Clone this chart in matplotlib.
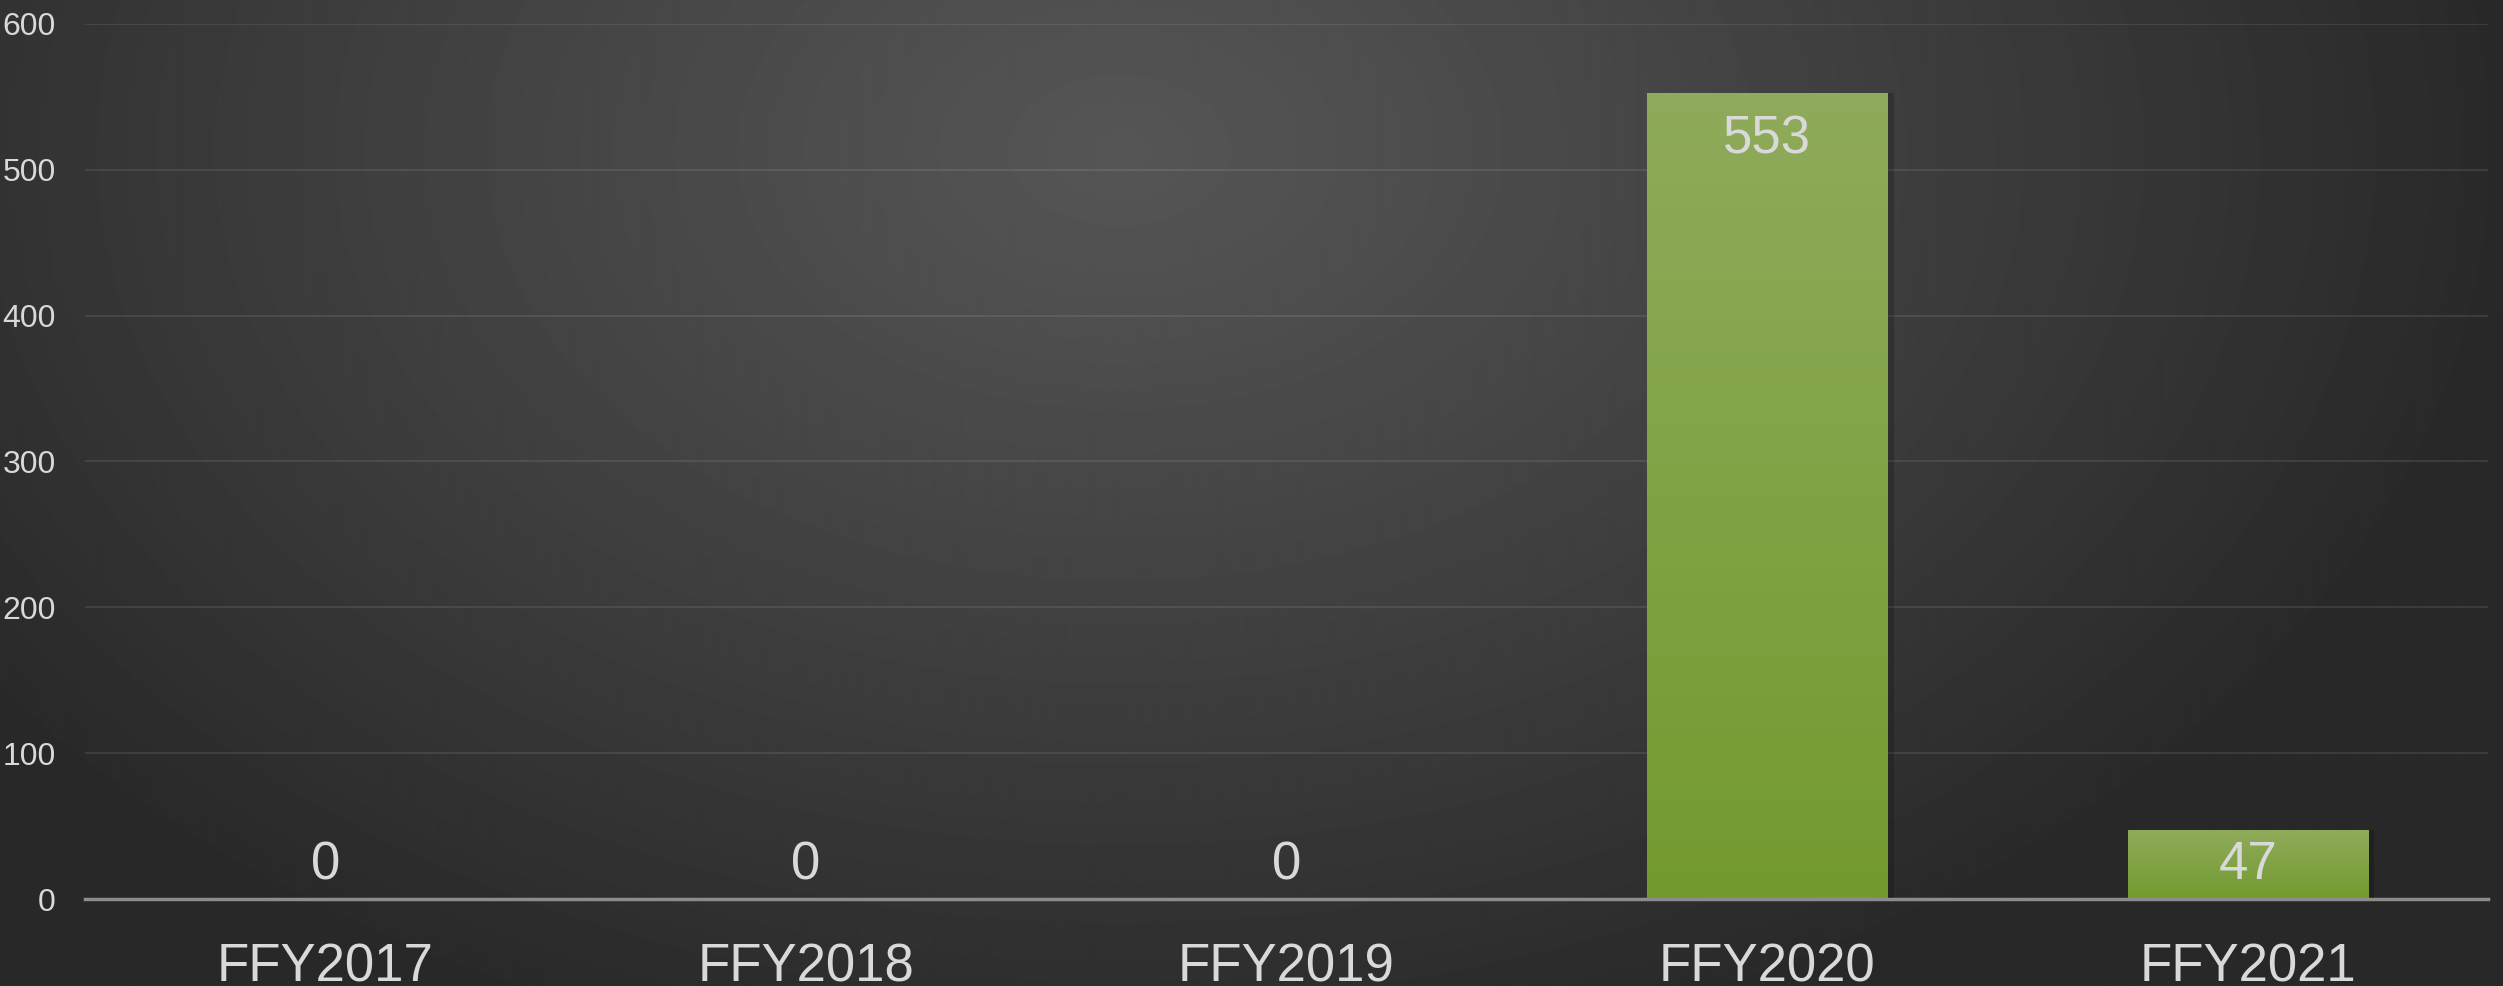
import numpy as np
import matplotlib.pyplot as plt
from matplotlib.colors import LinearSegmentedColormap

plt.rcParams['font.family'] = ['Liberation Sans', 'DejaVu Sans']

# data
years = ['FFY2017', 'FFY2018', 'FFY2019', 'FFY2020', 'FFY2021']
counts = [0, 0, 0, 553, 47]
yticks = [0, 100, 200, 300, 400, 500, 600]

text_col = '#d9d9d9'

fig = plt.figure(figsize=(25.03, 9.86), dpi=100)

# radial background
bg = fig.add_axes([0, 0, 1, 1], zorder=-10)
gx, gy = np.meshgrid(np.linspace(0, 2503, 1250), np.linspace(0, 986, 493))
r = np.sqrt(((gx - 1120) / 1400) ** 2 + ((gy - 150) / 950) ** 2)
r = np.clip(r, 0, 1)
shade = 0.335 - 0.175 * r ** 1.1
bg.imshow(shade, cmap='gray', vmin=0, vmax=1, aspect='auto',
          extent=[0, 1, 0, 1], origin='upper', interpolation='bilinear')
bg.axis('off')

ax = fig.add_axes([0.034, 0.0882, 0.96, 0.8875])
ax.patch.set_alpha(0)

x = np.arange(len(years))
bars = ax.bar(x, counts, width=0.5, color='#7fa33c', zorder=3)

# vertical gradient on bars
green = LinearSegmentedColormap.from_list('g', ['#739a2f', '#8fab5b'])
grad = np.linspace(0, 1, 256).reshape(-1, 1)
for b in bars:
    h = b.get_height()
    if h <= 0:
        continue
    # soft shadow
    ax.bar(b.get_x() + b.get_width() / 2 + 0.008, h, width=b.get_width() + 0.01,
           color='black', alpha=0.18, zorder=2)
    im = ax.imshow(grad, cmap=green, aspect='auto', origin='lower',
                   extent=[b.get_x(), b.get_x() + b.get_width(), 0, h], zorder=4)
    im.set_clip_path(b)

for xi, v in zip(x, counts):
    ly = v - 32 if v > 60 else 23
    ax.text(xi, ly, str(v), ha='center', va='center', fontsize=38,
            color=text_col, zorder=6)

ax.set_xlim(-0.5, len(years) - 0.5)
ax.set_ylim(0, 600)
ax.set_yticks(yticks)
ax.set_xticks(x)
ax.set_xticklabels(years)
ax.tick_params(axis='x', length=0, labelsize=38, colors=text_col, pad=31)
ax.tick_params(axis='y', length=0, labelsize=23, colors=text_col, pad=21)
ax.grid(axis='y', color='#ffffff', alpha=0.09, linewidth=1.5, zorder=0)
for s in ['top', 'right', 'left']:
    ax.spines[s].set_visible(False)
ax.spines['bottom'].set_color('#8c8c8c')
ax.spines['bottom'].set_linewidth(2.5)
ax.spines['bottom'].set_zorder(5)

fig.savefig('out.png', dpi=100)
